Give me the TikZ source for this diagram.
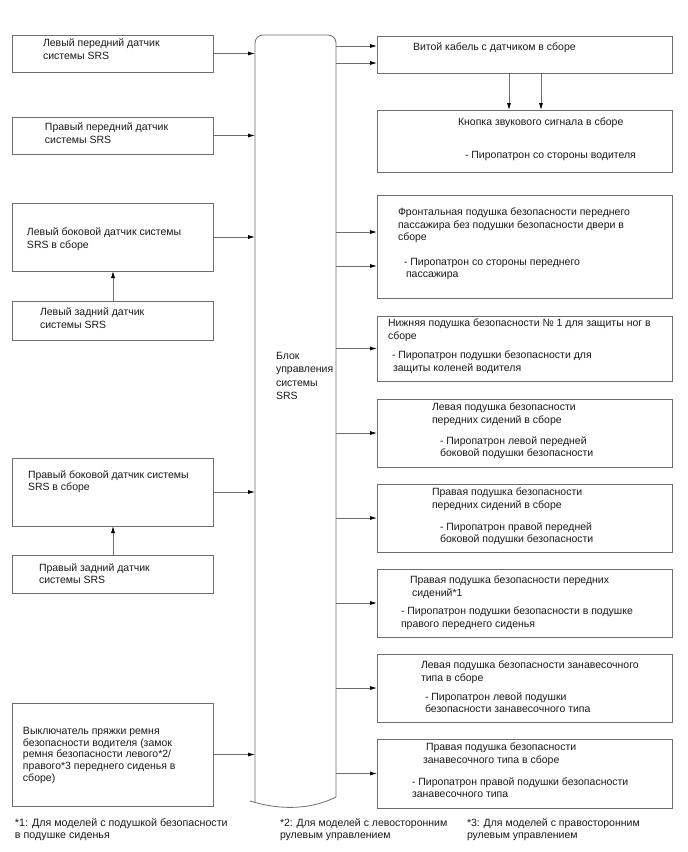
\documentclass[tikz,border=0pt]{standalone}
\usepackage{fontspec}
\setmainfont{Liberation Sans}
\usetikzlibrary{arrows.meta,calc}
\definecolor{linegray}{HTML}{6E6E6E}
\definecolor{txtcol}{HTML}{1A1A1A}
\begin{document}
\begin{tikzpicture}[x=1pt,y=-1pt,
  box/.style={draw=linegray, line width=0.8pt, anchor=north west, inner sep=0pt, outer sep=0pt},
  txt/.style={anchor=north west, inner sep=0pt, outer sep=0pt, align=left, text=txtcol,
    font=\fontsize{10.5}{12.3}\selectfont},
  arr/.style={draw=linegray, line width=0.8pt, -{Latex[length=7pt,width=4pt,color=black]}},
  edge/.style={draw=linegray, line width=0.8pt}
]
\fill[white] (0,0) rectangle (688,852);
\useasboundingbox (0,0) rectangle (688,852);

% ---------- left boxes ----------
\node[box, minimum width=201pt, minimum height=37pt] (L1) at (12,35) {};
\node[box, minimum width=201pt, minimum height=37pt] (L2) at (12,117) {};
\node[box, minimum width=201pt, minimum height=68pt] (L3) at (12,203) {};
\node[box, minimum width=201pt, minimum height=39pt] (L4) at (12,301) {};
\node[box, minimum width=201pt, minimum height=68pt] (L5) at (12,458) {};
\node[box, minimum width=201pt, minimum height=38pt] (L6) at (12,555) {};
\node[box, minimum width=201pt, minimum height=103pt] (L7) at (12,703) {};

\node[txt] (tL1) at (43,39.2) {Левый передний датчик\\системы SRS};
\node[txt] (tL2) at (45,123.2) {Правый передний датчик\\системы SRS};
\node[txt] (tL3) at (27,228.2) {Левый боковой датчик системы\\SRS в сборе};
\node[txt] (tL4) at (40,308.2) {Левый задний датчик\\системы SRS};
\node[txt] (tL5) at (28,470.2) {Правый боковой датчик системы\\SRS в сборе};
\node[txt] (tL6) at (39,563.2) {Правый задний датчик\\системы SRS};
\node[txt, font=\fontsize{10.5}{11.7}\selectfont] (tL7) at (23,727.2) {Выключатель пряжки ремня\\безопасности водителя (замок\\ремня безопасности левого*2/\\правого*3 переднего сиденья в\\сборе)};

% ---------- control unit ----------
\node[inner sep=0pt, outer sep=0pt, anchor=north west, minimum width=81pt, minimum height=765pt] (ecu) at (255,35) {};
\draw[edge, rounded corners=8pt] (255,803) -- (255,35) -- (336,35) -- (336,797);
\draw[edge] (336,797) .. controls (312,809) and (282,811) .. (250,801);
\node[txt, font=\fontsize{10.5}{13.3}\selectfont] (tecu) at (276,352.2) {Блок\\управления\\системы\\SRS};

% ---------- right boxes ----------
\node[box, minimum width=295pt, minimum height=37pt] (R1) at (377,36) {};
\node[box, minimum width=295pt, minimum height=62pt] (R2) at (377,110) {};
\node[box, minimum width=295pt, minimum height=103pt] (R3) at (377,195) {};
\node[box, minimum width=295pt, minimum height=65pt] (R4) at (377,316) {};
\node[box, minimum width=295pt, minimum height=68pt] (R5) at (377,399) {};
\node[box, minimum width=295pt, minimum height=68pt] (R6) at (377,484) {};
\node[box, minimum width=295pt, minimum height=68pt] (R7) at (377,569) {};
\node[box, minimum width=295pt, minimum height=68pt] (R8) at (377,654) {};
\node[box, minimum width=295pt, minimum height=69pt] (R9) at (377,739) {};

\node[txt] (tR1) at (413,43.2) {Витой кабель с датчиком в сборе};
\node[txt] (tR2a) at (458,118.2) {Кнопка звукового сигнала в сборе};
\node[txt] (tR2b) at (465,151.2) {- Пиропатрон со стороны водителя};
\node[txt] (tR3a) at (398,208.2) {Фронтальная подушка безопасности переднего\\пассажира без подушки безопасности двери в\\сборе};
\node[txt] (tR3b) at (404,258.2) {- Пиропатрон со стороны переднего\\\hspace*{2pt}пассажира};
\node[txt] (tR4a) at (388,319.2) {Нижняя подушка безопасности № 1 для защиты ног в\\сборе};
\node[txt] (tR4b) at (392,351.2) {- Пиропатрон подушки безопасности для\\\hspace*{1pt}защиты коленей водителя};
\node[txt] (tR5a) at (432,403.2) {Левая подушка безопасности\\передних сидений в сборе};
\node[txt] (tR5b) at (440,436.2) {- Пиропатрон левой передней\\боковой подушки безопасности};
\node[txt] (tR6a) at (432,488.2) {Правая подушка безопасности\\передних сидений в сборе};
\node[txt] (tR6b) at (440,522.2) {- Пиропатрон правой передней\\боковой подушки безопасности};
\node[txt] (tR7a) at (410,576.2) {Правая подушка безопасности передних\\\hspace*{2pt}сидений*1};
\node[txt] (tR7b) at (401,607.2) {- Пиропатрон подушки безопасности в подушке\\правого переднего сиденья};
\node[txt] (tR8a) at (421,661.2) {Левая подушка безопасности занавесочного\\типа в сборе};
\node[txt] (tR8b) at (425,692.2) {- Пиропатрон левой подушки\\безопасности занавесочного типа};
\node[txt] (tR9a) at (423,743.2) {\hspace*{3pt}Правая подушка безопасности\\занавесочного типа в сборе};
\node[txt] (tR9b) at (412,777.2) {- Пиропатрон правой подушки безопасности\\занавесочного типа};

% ---------- footnotes ----------
\node[txt, font=\fontsize{10.7}{12}\selectfont] (f1) at (15,818.2) {*1: Для моделей с подушкой безопасности\\в подушке сиденья};
\node[txt, font=\fontsize{10.5}{12}\selectfont] (f2) at (280,818.2) {*2: Для моделей с левосторонним\\рулевым управлением};
\node[txt, font=\fontsize{10.5}{12}\selectfont] (f3) at (467,818.2) {*3: Для моделей с правосторонним\\рулевым управлением};

% ---------- connectors: left ----------
\draw[arr] (L1.east) -- (L1.east -| ecu.west);
\draw[arr] (L2.east) -- (L2.east -| ecu.west);
\draw[arr] (L3.east) -- (L3.east -| ecu.west);
\draw[arr] (L5.east) -- (L5.east -| ecu.west);
\draw[arr] (L7.east) -- (L7.east -| ecu.west);
\draw[arr] (L4.north -| 113,0) -- (L3.south -| 113,0);
\draw[arr] (L6.north -| 113,0) -- (L5.south -| 113,0);

% ---------- connectors: right ----------
\draw[arr] (ecu.east |- 0,46) -- (R1.west |- 0,46);
\draw[arr] (ecu.east |- 0,63) -- (R1.west |- 0,63);
\draw[arr] (R1.south -| 509,0) -- (R2.north -| 509,0);
\draw[arr] (R1.south -| 541,0) -- (R2.north -| 541,0);
\draw[arr] (ecu.east |- 0,232) -- (R3.west |- 0,232);
\draw[arr] (ecu.east |- 0,266) -- (R3.west |- 0,266);
\draw[arr] (ecu.east |- R4.west) -- (R4.west);
\draw[arr] (ecu.east |- R5.west) -- (R5.west);
\draw[arr] (ecu.east |- R6.west) -- (R6.west);
\draw[arr] (ecu.east |- R7.west) -- (R7.west);
\draw[arr] (ecu.east |- R8.west) -- (R8.west);
\draw[arr] (ecu.east |- R9.west) -- (R9.west);
\end{tikzpicture}
\end{document}
